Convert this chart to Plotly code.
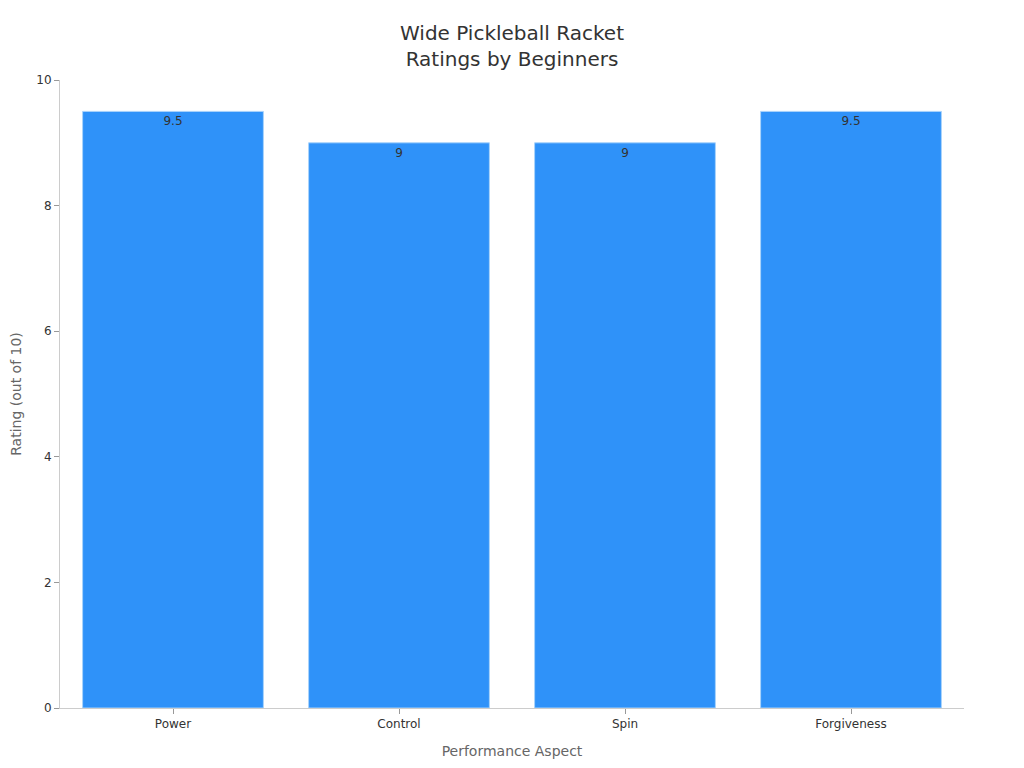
import plotly.graph_objects as go

aspects = ["Power", "Control", "Spin", "Forgiveness"]
ratings = [9.5, 9, 9, 9.5]
rating_labels = ["9.5", "9", "9", "9.5"]

fig = go.Figure()
fig.add_trace(go.Bar(
    x=aspects,
    y=ratings,
    text=rating_labels,
    textposition="inside",
    insidetextanchor="end",
    textfont=dict(size=12, color="#333333"),
    marker=dict(color="#2F92F9", line=dict(color="#A9D3FB", width=1)),
))

fig.update_layout(
    title=dict(
        text="Wide Pickleball Racket<br>Ratings by Beginners",
        x=0.5, xanchor="center", y=0.957, yanchor="top",
        font=dict(size=20, color="#333333"),
    ),
    font=dict(family="DejaVu Sans, sans-serif", size=12, color="#333333"),
    plot_bgcolor="white",
    paper_bgcolor="white",
    margin=dict(l=52, r=52, t=72, b=52),
    bargap=0.2,
    showlegend=False,
    xaxis=dict(
        title=dict(text="Performance Aspect", font=dict(size=14, color="#666666")),
        showline=True, linecolor="#CCCCCC", ticks="outside", tickcolor="#999999",
        ticklen=5, showgrid=False, automargin=False,
    ),
    yaxis=dict(
        title=dict(text="Rating (out of 10)", font=dict(size=14, color="#666666")),
        range=[0, 10], dtick=2,
        showline=True, linecolor="#CCCCCC", ticks="outside", tickcolor="#999999",
        ticklen=5, showgrid=False, zeroline=False, automargin=False,
    ),
)

fig.write_html("out.html")
